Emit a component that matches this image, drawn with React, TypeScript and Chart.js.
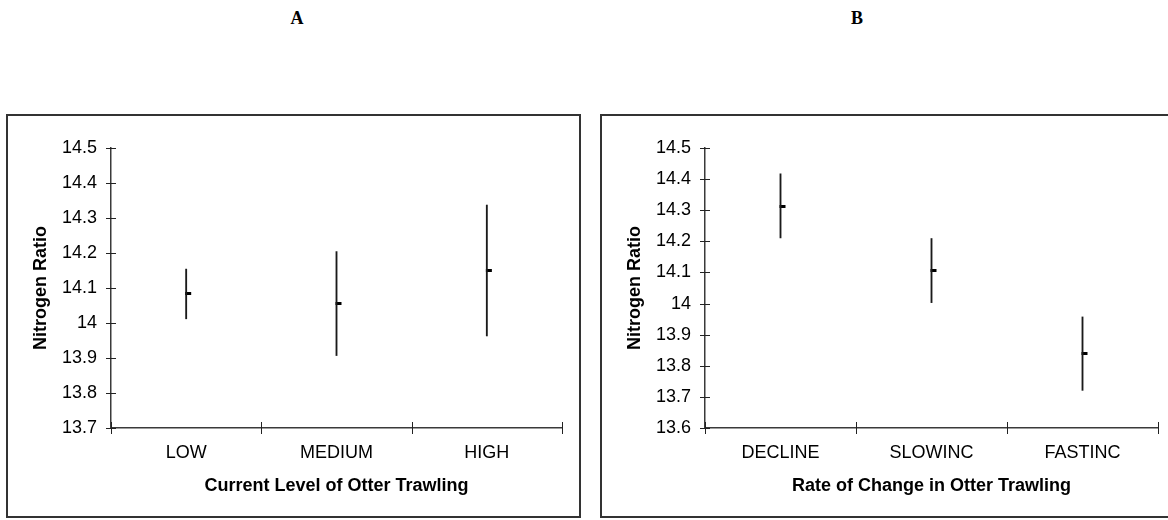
import React, { useEffect, useRef } from "react";
import { Chart, registerables } from "chart.js";

Chart.register(...registerables);

// ---------- Data ----------
const CATEGORIES_A = ["LOW", "MEDIUM", "HIGH"];
const MEAN_A = [14.085, 14.056, 14.15];
const LOWER_A = [14.012, 13.907, 13.963];
const UPPER_A = [14.154, 14.204, 14.337];
const Y_MIN_A = 13.7;
const Y_MAX_A = 14.5;

const CATEGORIES_B = ["DECLINE", "SLOWINC", "FASTINC"];
const MEAN_B = [14.313, 14.105, 13.841];
const LOWER_B = [14.211, 14.003, 13.721];
const UPPER_B = [14.417, 14.209, 13.957];
const Y_MIN_B = 13.6;
const Y_MAX_B = 14.5;

const Y_STEP = 0.1;
const Y_TITLE = "Nitrogen Ratio";
const X_TITLE_A = "Current Level of Otter Trawling";
const X_TITLE_B = "Rate of Change in Otter Trawling";
const PANEL_LABELS = ["A", "B"];

const FONT = "'Liberation Sans', Arial, sans-serif";

const crossTicks = {
  id: "crossTicks",
  afterDraw(chart: any) {
    const { ctx, chartArea, scales } = chart;
    const x = scales.x;
    const y = scales.y;
    ctx.save();
    ctx.strokeStyle = "#222";
    ctx.lineWidth = 1;
    ctx.beginPath();
    for (const t of y.ticks) {
      const py = Math.round(y.getPixelForValue(t.value)) + 0.5;
      ctx.moveTo(chartArea.left - 5, py);
      ctx.lineTo(chartArea.left + 5, py);
    }
    const n = chart.data.labels.length;
    for (let i = 0; i <= n; i++) {
      const px = Math.round(x.getPixelForValue(i - 0.5)) + 0.5;
      ctx.moveTo(px, chartArea.bottom - 6);
      ctx.lineTo(px, chartArea.bottom + 6);
    }
    ctx.stroke();
    ctx.restore();
  },
};

function makeDash() {
  const c = document.createElement("canvas");
  c.width = 12;
  c.height = 3;
  const g = c.getContext("2d")!;
  g.fillStyle = "#000";
  g.fillRect(5, 0, 6, 3);
  return c;
}

type PanelProps = {
  categories: string[];
  mean: number[];
  lower: number[];
  upper: number[];
  yMin: number;
  yMax: number;
  xTitle: string;
  width: number;
  height: number;
  padRight: number;
};

function Panel(p: PanelProps) {
  const ref = useRef<HTMLCanvasElement | null>(null);
  useEffect(() => {
    if (!ref.current) return;
    const dash = makeDash();
    const chart = new Chart(ref.current, {
      type: "bar",
      data: {
        labels: p.categories,
        datasets: [
          {
            type: "bar",
            data: p.categories.map((_, i) => [p.lower[i], p.upper[i]]) as any,
            backgroundColor: "#1a1a1a",
            borderWidth: 0,
            barThickness: 1.2,
            grouped: false,
          } as any,
          {
            type: "line",
            data: p.mean,
            showLine: false,
            pointStyle: dash as any,
            pointRadius: 4,
            pointHoverRadius: 4,
            borderWidth: 0,
          } as any,
        ],
      },
      options: {
        responsive: false,
        animation: false,
        devicePixelRatio: 1,
        events: [],
        layout: { padding: { top: 32, right: p.padRight, left: 0, bottom: 0 } },
        plugins: {
          legend: { display: false },
          tooltip: { enabled: false },
          title: { display: false },
        },
        scales: {
          x: {
            type: "category",
            offset: true,
            grid: { display: false, drawTicks: false },
            border: { display: true, color: "#3a3a3a", width: 1.5 },
            ticks: {
              font: { size: 18, family: FONT },
              color: "#000",
              padding: 14,
              maxRotation: 0,
              autoSkip: false,
            },
            title: {
              display: true,
              text: p.xTitle,
              font: { size: 18, weight: "bold", family: FONT },
              color: "#000",
              padding: { top: 0, bottom: 19 },
            },
            afterFit: (s: any) => {
              s.height = 88;
            },
          },
          y: {
            type: "linear",
            min: p.yMin,
            max: p.yMax,
            grid: { display: false, drawTicks: false },
            border: { display: true, color: "#3a3a3a", width: 1.5 },
            ticks: {
              stepSize: Y_STEP,
              font: { size: 18, family: FONT },
              color: "#000",
              padding: 14,
              callback: (v: any) => String(Number(Number(v).toFixed(1))),
            },
            title: {
              display: true,
              text: Y_TITLE,
              font: { size: 18, weight: "bold", family: FONT },
              color: "#000",
              padding: { top: 22, bottom: 0 },
            },
            afterFit: (s: any) => {
              s.width = 103;
            },
          },
        },
      } as any,
      plugins: [crossTicks],
    });
    return () => chart.destroy();
  }, []);
  return <canvas ref={ref} width={p.width} height={p.height} style={{ display: "block" }} />;
}

export default function App() {
  const titleStyle: React.CSSProperties = {
    position: "absolute",
    top: 8,
    width: 40,
    textAlign: "center",
    fontFamily: "'Liberation Serif', 'Times New Roman', serif",
    fontWeight: "bold",
    fontSize: 18,
    lineHeight: "20px",
    color: "#000",
  };
  const boxStyle: React.CSSProperties = {
    position: "absolute",
    top: 114,
    height: 404,
    border: "2px solid #333",
    boxSizing: "border-box",
  };
  return (
    <div
      style={{
        position: "fixed",
        left: 0,
        top: 0,
        width: 1168,
        height: 520,
        overflow: "hidden",
        background: "#fff",
      }}
    >
      <div style={{ ...titleStyle, left: 277 }}>{PANEL_LABELS[0]}</div>
      <div style={{ ...titleStyle, left: 837 }}>{PANEL_LABELS[1]}</div>
      <div style={{ ...boxStyle, left: 6, width: 575 }} />
      <div style={{ ...boxStyle, left: 600, width: 575 }} />
      <div style={{ position: "absolute", left: 8, top: 116 }}>
        <Panel
          categories={CATEGORIES_A}
          mean={MEAN_A}
          lower={LOWER_A}
          upper={UPPER_A}
          yMin={Y_MIN_A}
          yMax={Y_MAX_A}
          xTitle={X_TITLE_A}
          width={570}
          height={400}
          padRight={16}
        />
      </div>
      <div style={{ position: "absolute", left: 602, top: 116 }}>
        <Panel
          categories={CATEGORIES_B}
          mean={MEAN_B}
          lower={LOWER_B}
          upper={UPPER_B}
          yMin={Y_MIN_B}
          yMax={Y_MAX_B}
          xTitle={X_TITLE_B}
          width={566}
          height={400}
          padRight={10}
        />
      </div>
    </div>
  );
}
